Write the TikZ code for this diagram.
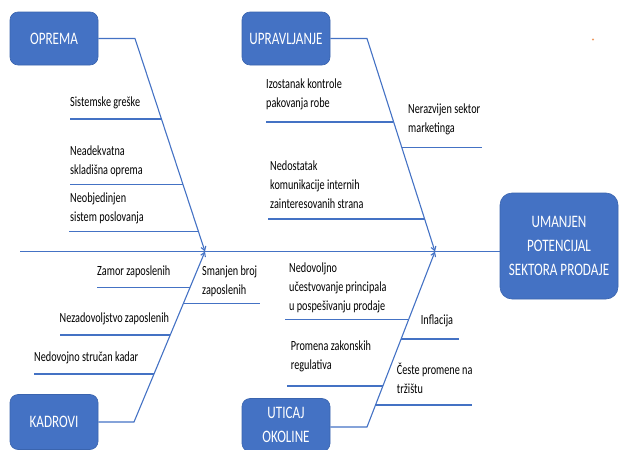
\documentclass[tikz,border=0pt]{standalone}
\usepackage{fontspec}
\setmainfont{Carlito}[FakeStretch=0.73]
\newfontfamily\boxfont{Carlito}[FakeStretch=0.75]
\usetikzlibrary{arrows.meta}
\definecolor{fbblue}{HTML}{4472C4}
\definecolor{fbborder}{HTML}{3A64AE}
\definecolor{fbdot}{HTML}{EE9A62}
\tikzset{
  conn/.style={draw=fbblue, line width=1.1pt},
  head/.style={conn, -{Straight Barb[length=4pt,width=5pt]}},
  catbox/.style={draw=fbborder, line width=0.6pt, fill=fbblue, rounded corners=8pt,
    text=white, font=\boxfont\fontsize{17.5}{24}\selectfont, align=center, inner sep=0pt},
  cause/.style={anchor=base west, inner sep=0pt, align=left,
    font=\fontsize{14}{19}\selectfont, text=black}
}
\begin{document}
\begin{tikzpicture}[x=1pt,y=-1pt]
\useasboundingbox (0,0) rectangle (619,450);
% category boxes
\node[catbox, minimum width=88pt, minimum height=53pt] (opr) at (54,38.5) {OPREMA};
\node[catbox, minimum width=88pt, minimum height=53pt] (upr) at (286,38.5) {UPRAVLJANJE};
\node[catbox, minimum width=88pt, minimum height=55pt] (kad) at (54,422) {KADROVI};
\node[catbox, minimum width=88pt, minimum height=53pt] (uti) at (286,425) {UTICAJ\\OKOLINE};
\node[catbox, rounded corners=12pt, minimum width=118pt, minimum height=106pt] (eff) at (559,246) {UMANJEN\\POTENCIJAL\\SEKTORA PRODAJE};
\fill[fbdot] (593,39.5) circle (1.1pt);
% coordinates
\coordinate (spL) at (20,251.5);
\coordinate (hA) at (205,251.5);
\coordinate (hB) at (435,251.5);
\coordinate (bOp) at (135,38.5);
\coordinate (bUp) at (367,38.5);
\coordinate (bKa) at (134,422);
\coordinate (bUt) at (367,427);
% spine and main bones
\draw[conn] (spL) -- (eff.west |- spL);
\draw[head] (opr.east) -- (bOp) -- (hA);
\draw[head] (upr.east) -- (bUp) -- (hB);
\draw[head] (kad.east) -- (bKa) -- (hA);
\draw[head] (uti.east |- bUt) -- (bUt) -- (hB);
% OPREMA branches
\coordinate (o1a) at (70,119);   \coordinate (o1b) at (161.6,119);
\coordinate (o2a) at (70,184.5); \coordinate (o2b) at (183.1,184.5);
\coordinate (o3a) at (69,231.7); \coordinate (o3b) at (198.6,231.7);
\draw[conn] (o1a) -- (o1b);
\draw[conn] (o2a) -- (o2b);
\draw[conn] (o3a) -- (o3b);
\node[cause] (t1) at (70,106.5) {Sistemske greške};
\node[cause] (t2) at (70,174.5) {Neadekvatna\\skladišna oprema};
\node[cause] (t3) at (70,221.7) {Neobjedinjen\\sistem poslovanja};
% UPRAVLJANJE branches
\coordinate (u1a) at (266,122);   \coordinate (u1b) at (393.3,122);
\coordinate (u2a) at (401.5,147.3); \coordinate (u2b) at (482,147.3);
\coordinate (u3a) at (268,219);   \coordinate (u3b) at (424.7,219);
\draw[conn] (u1a) -- (u1b);
\draw[conn] (u2a) -- (u2b);
\draw[conn] (u3a) -- (u3b);
\node[cause] (t4) at (266,107) {Izostanak kontrole\\pakovanja robe};
\node[cause] (t5) at (408,132.7) {Nerazvijen sektor\\marketinga};
\node[cause] (t6) at (270,208) {Nedostatak\\komunikacije internih\\zainteresovanih strana};
% KADROVI branches
\coordinate (k1a) at (97,287.5);  \coordinate (k1b) at (189.9,287.5);
\coordinate (k2a) at (183.3,303.5); \coordinate (k2b) at (260,303.5);
\coordinate (k3a) at (60,335);    \coordinate (k3b) at (170.3,335);
\coordinate (k4a) at (34,374);    \coordinate (k4b) at (154.2,374);
\draw[conn] (k1a) -- (k1b);
\draw[conn] (k2a) -- (k2b);
\draw[conn] (k3a) -- (k3b);
\draw[conn] (k4a) -- (k4b);
\node[cause] (t7) at (97,275.5) {Zamor zaposlenih};
\node[cause] (t8) at (202,294) {Smanjen broj\\zaposlenih};
\node[cause] (t9) at (59.5,322.5) {Nezadovoljstvo zaposlenih};
\node[cause] (t10) at (34,361.7) {Nedovojno stručan kadar};
% UTICAJ OKOLINE branches
\coordinate (e1a) at (285,319.3); \coordinate (e1b) at (408.6,319.3);
\coordinate (e2a) at (401,339);   \coordinate (e2b) at (459,339);
\coordinate (e3a) at (287,386);   \coordinate (e3b) at (382.8,386);
\coordinate (e4a) at (375.5,405); \coordinate (e4b) at (472,405);
\draw[conn] (e1a) -- (e1b);
\draw[conn] (e2a) -- (e2b);
\draw[conn] (e3a) -- (e3b);
\draw[conn] (e4a) -- (e4b);
\node[cause] (t11) at (289,310) {Nedovoljno\\učestvovanje principala\\u pospešivanju prodaje};
\node[cause] (t12) at (420.7,324) {Inflacija};
\node[cause] (t13) at (290.7,369) {Promena zakonskih\\regulativa};
\node[cause] (t14) at (396.7,393.3) {Česte promene na\\tržištu};
\end{tikzpicture}
\end{document}
